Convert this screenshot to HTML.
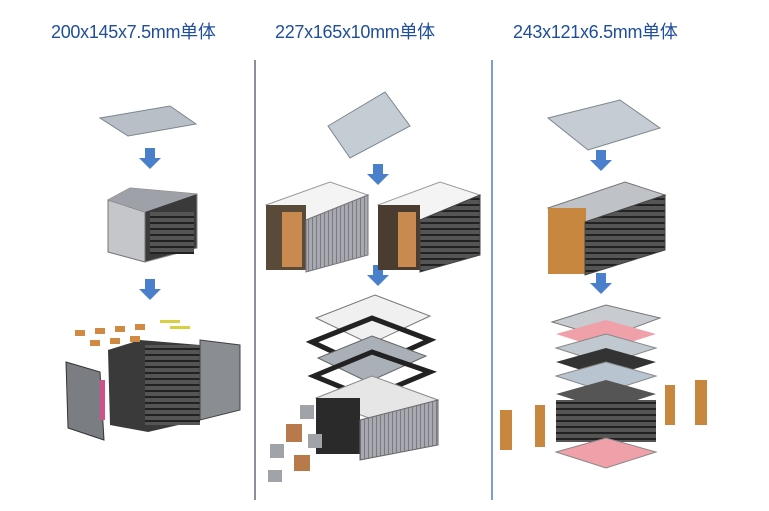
<!DOCTYPE html>
<html><head><meta charset="utf-8"><style>
html,body{margin:0;padding:0;background:#fff;}
.wrap{position:relative;width:769px;height:511px;overflow:hidden;background:#fff;}
.t{position:absolute;top:18px;font:18px "Liberation Sans","Noto Sans CJK SC",sans-serif;color:#1f4e9c;white-space:nowrap;letter-spacing:-0.3px;}
svg{position:absolute;left:0;top:0;}
</style></head><body><div class="wrap">
<div class="t" style="left:51px">200x145x7.5mm单体</div>
<div class="t" style="left:275px">227x165x10mm单体</div>
<div class="t" style="left:513px">243x121x6.5mm单体</div>
<svg width="769" height="511" viewBox="0 0 769 511">
<defs>
<g id="arr"><rect x="-5" y="-12" width="10" height="10" fill="#4a7fcb"/><polygon points="-11,-2 11,-2 0,9" fill="#4a7fcb"/></g>
<pattern id="fins" width="4" height="6" patternUnits="userSpaceOnUse"><rect width="4" height="6" fill="#555"/><rect width="4" height="2" fill="#222"/></pattern>
<pattern id="fins2" width="4" height="4" patternUnits="userSpaceOnUse"><rect width="4" height="4" fill="#a8a8b0"/><rect width="1" height="4" fill="#7a7a85"/></pattern>
</defs>
<line x1="255" y1="60" x2="255" y2="500" stroke="#8a8f9a" stroke-width="2"/>
<line x1="492" y1="60" x2="492" y2="500" stroke="#7d9ccf" stroke-width="2"/>
<use href="#arr" x="150" y="160"/><use href="#arr" x="150" y="291"/>
<use href="#arr" x="378" y="176"/><use href="#arr" x="378" y="277"/>
<use href="#arr" x="601" y="162"/><use href="#arr" x="601" y="285"/>
<!-- col1 -->
<polygon points="100,118 170,106 196,124 128,136" fill="#b8bfc6" stroke="#7c8590"/>
<polygon points="108,200 130,188 197,194 197,248 145,262 108,252" fill="#3a3a3a" stroke="#888"/>
<polygon points="108,200 145,212 145,262 108,252" fill="#c4c6ca" stroke="#777"/>
<polygon points="108,200 130,188 197,194 145,212" fill="#9ea2a8"/>
<rect x="150" y="212" width="44" height="42" fill="url(#fins)"/>
<polygon points="66,362 100,372 104,440 68,428" fill="#7a7d82" stroke="#333"/>
<rect x="100" y="380" width="5" height="40" fill="#d0508a"/>
<polygon points="108,350 140,340 200,345 200,420 148,432 110,425" fill="#3a3a3a"/>
<rect x="145" y="345" width="55" height="80" fill="url(#fins)"/>
<polygon points="200,340 240,345 240,410 200,420" fill="#8a8d92" stroke="#444"/>
<g fill="#d08a44"><rect x="75" y="330" width="10" height="6"/><rect x="95" y="328" width="10" height="6"/><rect x="115" y="326" width="10" height="6"/><rect x="135" y="324" width="10" height="6"/><rect x="90" y="340" width="10" height="6"/><rect x="110" y="338" width="10" height="6"/><rect x="130" y="336" width="10" height="6"/></g>
<g fill="#d8d040"><rect x="160" y="320" width="20" height="3"/><rect x="170" y="326" width="20" height="3"/></g>
<!-- col2 -->
<polygon points="328,126 385,92 410,126 350,158" fill="#c5cdd4" stroke="#7c8590"/>
<polygon points="266,205 330,182 368,195 306,220" fill="#f4f4f4" stroke="#999"/>
<rect x="266" y="205" width="40" height="65" fill="#5a4a3a"/>
<rect x="282" y="212" width="20" height="55" fill="#c88a4e"/>
<polygon points="306,220 368,195 368,255 306,272" fill="url(#fins2)" stroke="#777"/>
<polygon points="378,205 440,182 480,195 420,220" fill="#f4f4f4" stroke="#999"/>
<rect x="378" y="205" width="42" height="65" fill="#4a3c30"/>
<rect x="398" y="212" width="18" height="55" fill="#c88a4e"/>
<polygon points="420,220 480,195 480,255 420,272" fill="url(#fins)" stroke="#444"/>
<polygon points="316,318 375,295 430,316 370,344" fill="#f0f0f0" stroke="#777"/>
<polygon points="312,342 372,318 430,340 368,368" fill="none" stroke="#222" stroke-width="5"/>
<polygon points="318,358 372,336 426,356 368,382" fill="#aab0b8" stroke="#666"/>
<polygon points="314,376 372,352 430,372 368,398" fill="none" stroke="#222" stroke-width="5"/>
<polygon points="316,398 372,376 438,400 374,420" fill="#e6e6e6" stroke="#888"/>
<rect x="316" y="398" width="44" height="56" fill="#2a2a2a"/>
<polygon points="360,420 438,400 438,445 360,460" fill="url(#fins2)" stroke="#666"/>
<g fill="#a0a4a8"><rect x="270" y="444" width="14" height="14"/><rect x="300" y="405" width="14" height="14"/><rect x="268" y="470" width="14" height="12"/><rect x="308" y="434" width="14" height="14"/></g>
<g fill="#b87a4a"><rect x="286" y="424" width="16" height="18"/><rect x="294" y="455" width="16" height="16"/></g>
<!-- col3 -->
<polygon points="548,118 620,100 660,128 588,150" fill="#c5ccd3" stroke="#7c8590"/>
<polygon points="548,208 625,182 665,195 585,222" fill="#bfc2c6" stroke="#777"/>
<rect x="548" y="208" width="38" height="66" fill="#c8873e"/>
<polygon points="585,222 665,195 665,250 585,275" fill="url(#fins)" stroke="#444"/>
<polygon points="552,322 606,305 660,318 606,338" fill="#c8ccd0" stroke="#777"/>
<polygon points="556,334 606,320 656,334 606,350" fill="#f0a0a8"/>
<polygon points="556,348 606,334 656,348 606,364" fill="#c0c8d0" stroke="#888"/>
<polygon points="556,362 606,348 656,362 606,378" fill="#333"/>
<polygon points="556,376 606,362 656,376 606,392" fill="#b8c4d0" stroke="#888"/>
<polygon points="556,394 606,380 656,394 606,410" fill="#555"/>
<rect x="556" y="400" width="100" height="42" fill="url(#fins)"/>
<polygon points="556,452 606,438 656,452 606,468" fill="#f0a0a8" stroke="#888"/>
<rect x="500" y="410" width="12" height="40" fill="#c8873e"/><rect x="535" y="405" width="10" height="42" fill="#c8873e"/>
<rect x="665" y="385" width="10" height="40" fill="#c8873e"/><rect x="695" y="380" width="12" height="45" fill="#c8873e"/>
</svg></div></body></html>
